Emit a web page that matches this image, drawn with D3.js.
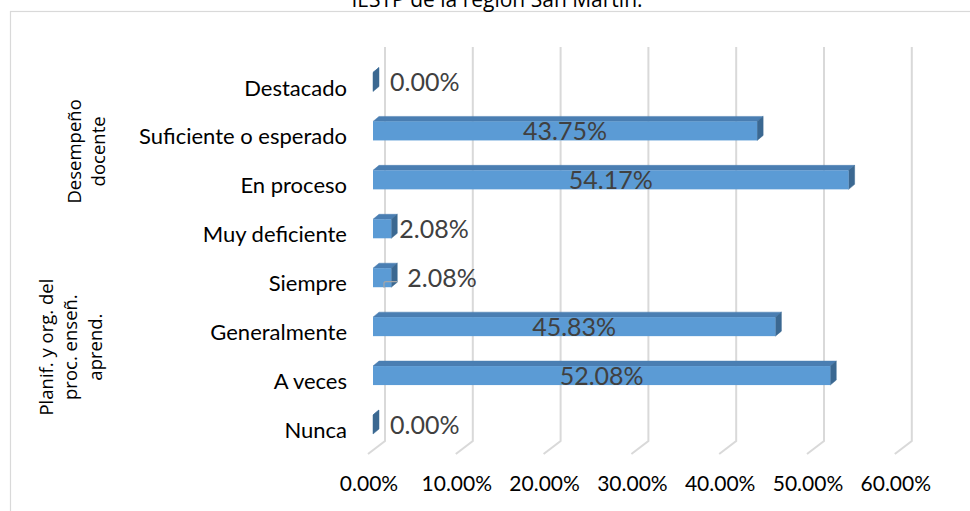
<!DOCTYPE html>
<html><head><meta charset="utf-8">
<script src="https://cdn.jsdelivr.net/npm/d3@7"></script>
<style>
html,body{margin:0;padding:0;background:#fff;}
svg{display:block;}
</style>
</head><body>
<svg id="chart" width="970" height="511"></svg>
<script>
// ---- data ----
const categories = ["Destacado","Suficiente o esperado","En proceso","Muy deficiente","Siempre","Generalmente","A veces","Nunca"];
const values = [0.0, 0.4375, 0.5417, 0.0208, 0.0208, 0.4583, 0.5208, 0.0];
const groups = [
  {lines:["Desempeño","docente"], members:["Destacado","Suficiente o esperado","En proceso","Muy deficiente"]},
  {lines:["Planif. y org. del","proc. enseñ.","aprend."], members:["Siempre","Generalmente","A veces","Nunca"]}
];
const ticks = [0,0.1,0.2,0.3,0.4,0.5,0.6];
const titleText = "IESTP de la región San Martín.";

// ---- layout ----
const svg = d3.select("#chart");
const W = 970, H = 511;
const x = d3.scaleLinear().domain([0,0.6]).range([373, 373 + 6*87.8]);
const y = d3.scalePoint().domain(categories).range([88, 430.5]);
const DX = 6, DY = -5;          // bar depth
const BH = 19;                   // bar front height
const barOff = -6;               // bar centre vs label centre
const wallOff = 12, wallTop = 47, wallBottom = 441, floorDX = -17, floorDY = 13;
const fmt = d3.format(".2%");
const gill = "'Lato', 'Noto Sans', sans-serif";
const cal = "'Open Sans', 'Noto Sans', sans-serif";

// chart area border
svg.append("rect").attr("x",10.5).attr("y",11.5).attr("width",W+20).attr("height",H+20)
  .attr("fill","none").attr("stroke","#d9d9d9").attr("stroke-width",1.2);

// title (cut off at the top, as in the reference)
svg.append("text").attr("x",497).attr("y",7).attr("text-anchor","middle")
  .attr("font-family",cal).attr("font-size",21).attr("fill","#000").text(titleText);

// gridlines: back wall + floor
const grid = svg.append("g");
ticks.forEach(t => {
  const bx = x(t) + wallOff;
  grid.append("path")
    .attr("d", `M${bx},${wallTop}L${bx},${wallBottom}L${bx+floorDX},${wallBottom+floorDY}`)
    .attr("fill","none").attr("stroke","#d9d9d9").attr("stroke-width",2);
});

// tick labels
svg.append("g").selectAll("text").data(ticks).join("text")
  .attr("x", d => x(d) - 4).attr("y", 491).attr("text-anchor","middle")
  .attr("font-family",gill).attr("font-size",21).attr("fill","#000")
  .text(d => fmt(d));

// category labels
svg.append("g").selectAll("text").data(categories).join("text")
  .attr("x",347).attr("y", d => y(d) + 7.5).attr("text-anchor","end")
  .attr("font-family",gill).attr("font-size",22).attr("fill","#000")
  .text(d => d);

// group labels
groups.forEach(g => {
  const cy = d3.mean(g.members, m => y(m)) - 10;
  const n = g.lines.length, lh = 24.5;
  const cx0 = (n === 2) ? 86 : 70;
  const gt = svg.append("text").attr("font-family",cal).attr("font-size",18.5).attr("fill","#000")
    .attr("text-anchor","middle")
    .attr("transform", `translate(${cx0 - (n-1)*lh/2 + 7},${cy}) rotate(-90)`);
  g.lines.forEach((l,i) => gt.append("tspan").attr("x",0).attr("y", i*lh).text(l));
});

// bars
const bars = svg.append("g");
categories.forEach((c,i) => {
  const v = values[i];
  const x0 = x(0), x1 = x(v);
  const yt = y(c) + barOff - BH/2, yb = yt + BH;
  const g = bars.append("g");
  g.append("path").attr("d", `M${x0},${yt}L${x0+DX},${yt+DY}L${x1+DX},${yt+DY}L${x1},${yt}Z`)
    .attr("fill","#4a7eb2").attr("stroke","#4a7eb2").attr("stroke-width",0.5);
  g.append("path").attr("d", `M${x1},${yt}L${x1+DX},${yt+DY}L${x1+DX},${yb+DY}L${x1},${yb}Z`)
    .attr("fill","#3b6891").attr("stroke","#3b6891").attr("stroke-width",0.5);
  g.append("rect").attr("x",x0).attr("y",yt).attr("width",x1-x0).attr("height",BH)
    .attr("fill","#5b9bd5");
});

// data labels
const big = 0.1;
const lbl = svg.append("g");
categories.forEach((c,i) => {
  const v = values[i];
  const yc = y(c) + barOff;
  if (v > big) {
    lbl.append("text").attr("x",(x(0)+x(v))/2).attr("y",yc+9).attr("text-anchor","middle")
      .attr("font-family",gill).attr("font-size",25).attr("fill","#404040").text(fmt(v));
  } else {
    const lx = (c === "Siempre") ? x(v) + 16 : x(v) + (v === 0 ? 17 : 8);
    if (c === "Siempre") {
      lbl.append("path").attr("d", `M${x(0)+11},${yc+10}L${x(0)+11},${yc+5}Q${x(0)+11},${yc+4} ${x(0)+13},${yc+4}L${x(v)+6},${yc+4}`)
        .attr("fill","none").attr("stroke","#a6a6a6").attr("stroke-width",1.2);
    }
    lbl.append("text").attr("x",lx).attr("y",yc+9).attr("text-anchor","start")
      .attr("font-family",gill).attr("font-size",25).attr("fill","#404040").text(fmt(v));
  }
});
</script>
</body></html>
